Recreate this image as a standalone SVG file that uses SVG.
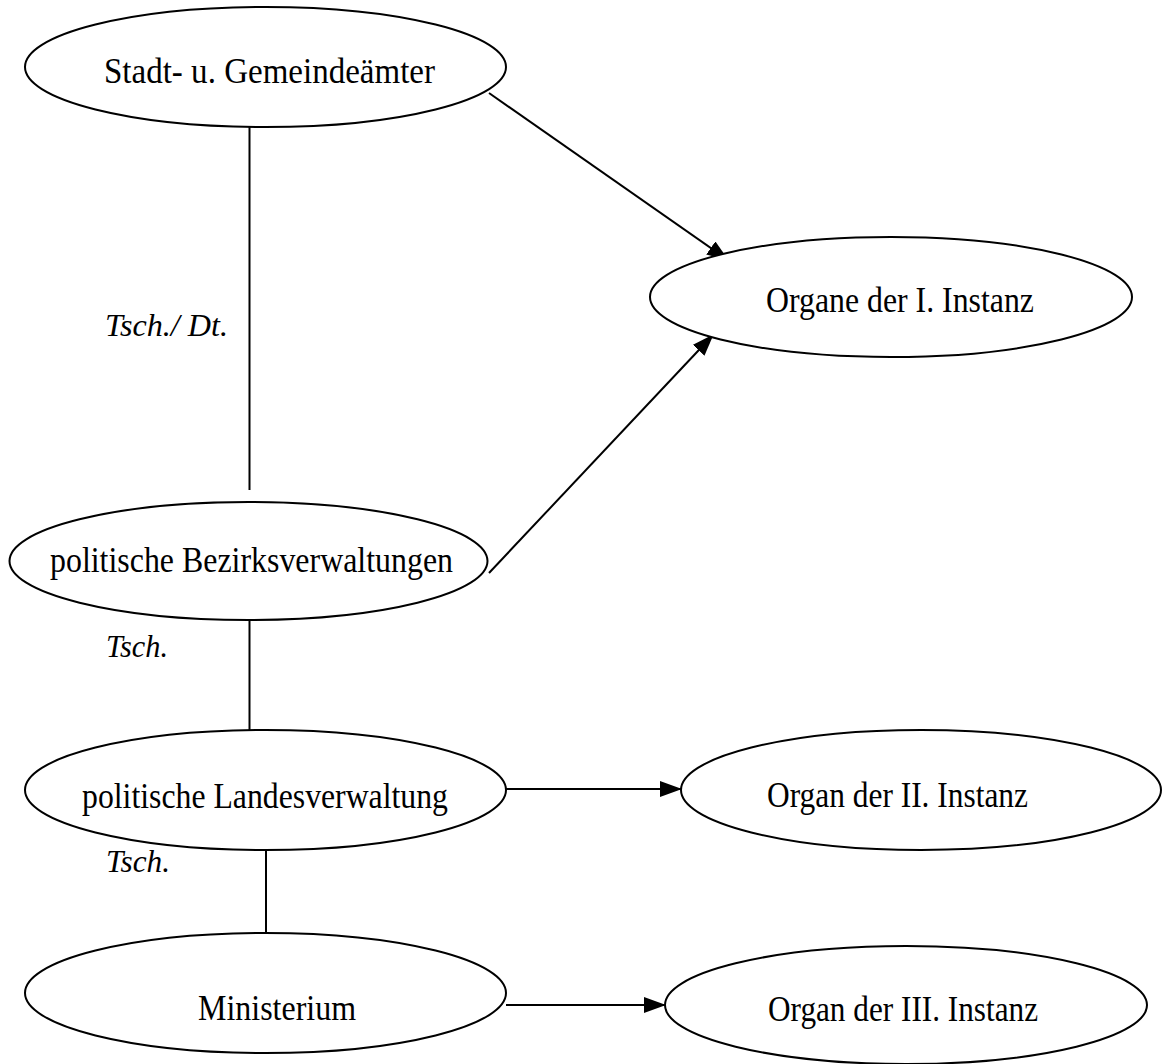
<svg xmlns="http://www.w3.org/2000/svg" width="1163" height="1064" viewBox="0 0 1163 1064">
  <style>
    .node ellipse { fill: #ffffff; stroke: #000000; stroke-width: 2; }
    .node text { font-family: "Liberation Serif", "Times New Roman", serif; font-size: 36px; fill: #000000; }
    .edges line { stroke: #000000; stroke-width: 2; fill: none; }
    .note { font-family: "Liberation Serif", "Times New Roman", serif; font-size: 32px; font-style: italic; fill: #000000; }
  </style>
  <defs>
    <marker id="arrow" viewBox="0 0 22 16" refX="21" refY="8" markerWidth="22" markerHeight="16" markerUnits="userSpaceOnUse" orient="auto">
      <path d="M0,0 L22,8 L0,16 Z" fill="#000000"/>
    </marker>
  </defs>

  <rect x="0" y="0" width="1163" height="1064" fill="#ffffff"/>

  <!-- connectors -->
  <g id="edges" class="edges">
    <line x1="249.5" y1="127" x2="249.5" y2="490"/>
    <line x1="249.5" y1="620" x2="249.5" y2="730"/>
    <line x1="266" y1="850" x2="266" y2="933"/>
    <line x1="489" y1="93" x2="728" y2="260" marker-end="url(#arrow)"/>
    <line x1="489" y1="573" x2="713" y2="335" marker-end="url(#arrow)"/>
    <line x1="506" y1="789" x2="681" y2="789" marker-end="url(#arrow)"/>
    <line x1="506" y1="1005" x2="665" y2="1005" marker-end="url(#arrow)"/>
  </g>

  <!-- edge notes -->
  <text class="note" x="105" y="336" textLength="123" lengthAdjust="spacingAndGlyphs">Tsch./ Dt.</text>
  <text class="note" x="106" y="657" textLength="62" lengthAdjust="spacingAndGlyphs">Tsch.</text>
  <text class="note" x="106" y="872" textLength="64" lengthAdjust="spacingAndGlyphs">Tsch.</text>

  <!-- nodes -->
  <g id="node-stadt" class="node">
    <ellipse cx="265.5" cy="67" rx="240.5" ry="60"/>
    <text x="104" y="83" textLength="331" lengthAdjust="spacingAndGlyphs">Stadt- u. Gemeindeämter</text>
  </g>
  <g id="node-instanz1" class="node">
    <ellipse cx="891" cy="297" rx="241" ry="60"/>
    <text x="766" y="312" textLength="268" lengthAdjust="spacingAndGlyphs">Organe der I. Instanz</text>
  </g>
  <g id="node-bezirk" class="node">
    <ellipse cx="248.5" cy="561" rx="239" ry="59"/>
    <text x="50" y="572" textLength="403" lengthAdjust="spacingAndGlyphs">politische Bezirksverwaltungen</text>
  </g>
  <g id="node-land" class="node">
    <ellipse cx="265.5" cy="790" rx="240.5" ry="60"/>
    <text x="82" y="808" textLength="366" lengthAdjust="spacingAndGlyphs">politische Landesverwaltung</text>
  </g>
  <g id="node-instanz2" class="node">
    <ellipse cx="921" cy="790" rx="240" ry="60"/>
    <text x="767" y="807" textLength="261" lengthAdjust="spacingAndGlyphs">Organ der II. Instanz</text>
  </g>
  <g id="node-ministerium" class="node">
    <ellipse cx="265.5" cy="993" rx="240.5" ry="60"/>
    <text x="198" y="1020" textLength="158" lengthAdjust="spacingAndGlyphs">Ministerium</text>
  </g>
  <g id="node-instanz3" class="node">
    <ellipse cx="906" cy="1005" rx="241" ry="59"/>
    <text x="768" y="1021" textLength="270" lengthAdjust="spacingAndGlyphs">Organ der III. Instanz</text>
  </g>
</svg>
